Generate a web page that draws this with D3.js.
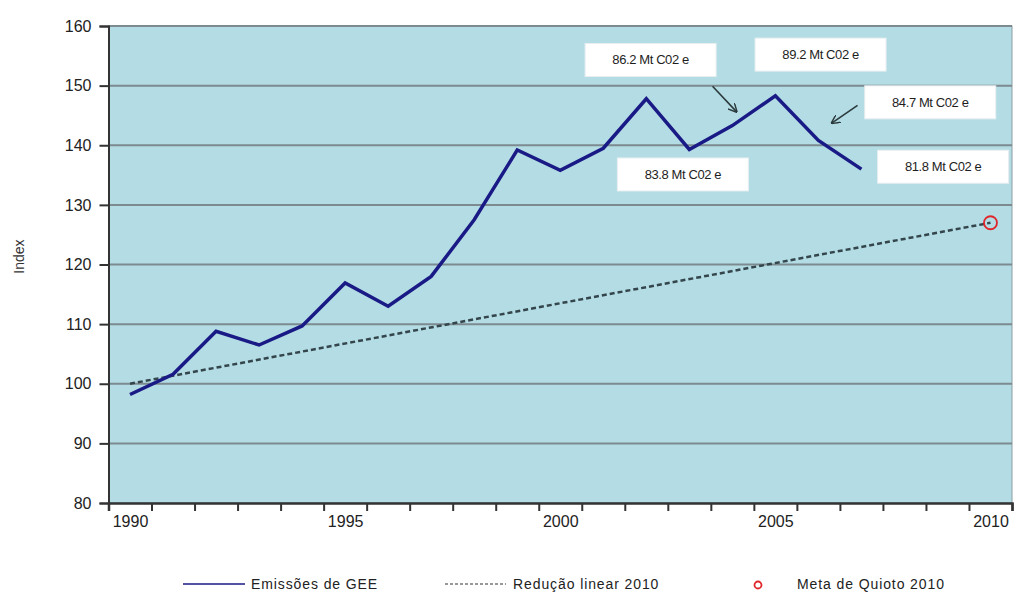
<!DOCTYPE html>
<html>
<head>
<meta charset="utf-8">
<script src="https://cdn.jsdelivr.net/npm/d3@7"></script>
<style>
  html, body { margin: 0; padding: 0; background: #ffffff; }
  svg { display: block; font-family: "Liberation Sans", Arial, sans-serif; }
</style>
</head>
<body>
<svg id="chart" width="1014" height="594"></svg>
<script>
// Emissions index (1990-2007)
const years = [1990, 1991, 1992, 1993, 1994, 1995, 1996, 1997, 1998, 1999,
               2000, 2001, 2002, 2003, 2004, 2005, 2006, 2007];
const emissions = [98.2, 101.6, 108.8, 106.5, 109.7, 116.9, 113.0, 118.0, 127.5, 139.2,
                   135.8, 139.5, 147.8, 139.3, 143.3, 148.3, 140.8, 136.0];

// Linear reduction path towards the 2010 target
const linearYears = [1990, 2010];
const linearValues = [100, 127];

// Kyoto target
const kyotoYear = 2010;
const kyotoValue = 127;

// Axis categories and labels
const categoryYears = d3.range(1990, 2011);
const xTickLabels = ["1990", "1995", "2000", "2005", "2010"];
const yTicks = [80, 90, 100, 110, 120, 130, 140, 150, 160];

// Annotated values (Mt CO2 e)
const noteYears = [2004, 2005, 2006, 2003, 2007];
const noteTexts = ["86.2 Mt C02 e", "89.2 Mt C02 e", "84.7 Mt C02 e", "83.8 Mt C02 e", "81.8 Mt C02 e"];

// Legend entries
const legendLabels = ["Emissões de GEE", "Redução linear 2010", "Meta de Quioto 2010"];

const svg = d3.select("#chart");
const plot = { left: 108.5, right: 1012, top: 26, bottom: 503 };

const x = d3.scaleLinear()
  .domain([categoryYears[0] - 0.5, categoryYears[categoryYears.length - 1] + 0.5])
  .range([plot.left, plot.right]);
const y = d3.scaleLinear().domain([80, 160]).range([plot.bottom, plot.top]);

// Plot background
svg.append("rect")
  .attr("x", plot.left).attr("y", plot.top)
  .attr("width", plot.right - plot.left).attr("height", plot.bottom - plot.top)
  .attr("fill", "#b3dce4")
  .attr("stroke", "#8a9ea4").attr("stroke-width", 1);

// Horizontal gridlines
svg.append("g")
  .selectAll("line")
  .data(yTicks.filter(v => v > 80))
  .join("line")
  .attr("x1", plot.left).attr("x2", plot.right)
  .attr("y1", d => y(d)).attr("y2", d => y(d))
  .attr("stroke", "#7d8b90").attr("stroke-width", 2);

// Y axis
const yAxis = svg.append("g")
  .attr("transform", `translate(${plot.left},0)`)
  .call(d3.axisLeft(y).tickValues(yTicks).tickSize(9).tickPadding(8).tickFormat(d3.format("d")));
yAxis.select(".domain").attr("stroke", "#333").attr("stroke-width", 2);
yAxis.selectAll(".tick line").attr("stroke", "#333").attr("stroke-width", 2);
yAxis.selectAll(".tick text")
  .attr("font-size", 16).attr("fill", "#222")
  .attr("font-family", "Liberation Sans, Arial, sans-serif");

// X axis: tick marks on category boundaries
const xAxis = svg.append("g")
  .attr("transform", `translate(0,${plot.bottom})`)
  .call(d3.axisBottom(x)
    .tickValues(categoryYears.map(d => d - 0.5).concat([categoryYears[categoryYears.length - 1] + 0.5]))
    .tickSize(8)
    .tickFormat(""));
xAxis.select(".domain").attr("stroke", "#333").attr("stroke-width", 2.5);
xAxis.selectAll(".tick line").attr("stroke", "#333").attr("stroke-width", 2);

// X axis labels centred in their categories
const xLabels = svg.append("g")
  .attr("transform", `translate(0,${plot.bottom})`)
  .call(d3.axisBottom(x)
    .tickValues(xTickLabels.map(Number))
    .tickSize(0)
    .tickPadding(13)
    .tickFormat(d3.format("d")));
xLabels.select(".domain").remove();
xLabels.selectAll(".tick text")
  .attr("font-size", 16).attr("fill", "#222")
  .attr("font-family", "Liberation Sans, Arial, sans-serif");

// Y axis title
svg.append("text")
  .attr("transform", `translate(24,${(plot.top + plot.bottom) / 2 - 8}) rotate(-90)`)
  .attr("text-anchor", "middle")
  .attr("font-size", 14).attr("fill", "#333")
  .text("Index");

// Linear reduction line
svg.append("path")
  .datum(linearYears.map((yr, i) => [yr, linearValues[i]]))
  .attr("fill", "none")
  .attr("stroke", "#34464c").attr("stroke-width", 2.5)
  .attr("stroke-dasharray", "5,3")
  .attr("d", d3.line().x(d => x(d[0])).y(d => y(d[1])));

// Emissions line
svg.append("path")
  .datum(years.map((yr, i) => [yr, emissions[i]]))
  .attr("fill", "none")
  .attr("stroke", "#1a1a86").attr("stroke-width", 3.5)
  .attr("stroke-linejoin", "miter")
  .attr("d", d3.line().x(d => x(d[0])).y(d => y(d[1])));

// Kyoto target marker
svg.append("circle")
  .attr("cx", x(kyotoYear)).attr("cy", y(kyotoValue)).attr("r", 6.5)
  .attr("fill", "none").attr("stroke", "#e0262b").attr("stroke-width", 1.8);

// Annotation boxes: box centre offsets (in years / index points) from each point
const noteOffsets = [
  { dx: -1.9, dy: 11.0 },
  { dx: 1.05, dy: 6.9 },
  { dx: 2.6, dy: 6.4 },
  { dx: -0.15, dy: -4.2 },
  { dx: 1.9, dy: 0.4 }
];
const noteLayer = svg.append("g");
noteYears.forEach((yr, i) => {
  const v = emissions[years.indexOf(yr)];
  const cx = x(yr + noteOffsets[i].dx);
  const cy = y(v + noteOffsets[i].dy);
  const w = 131, h = 33;
  noteLayer.append("rect")
    .attr("x", cx - w / 2).attr("y", cy - h / 2)
    .attr("width", w).attr("height", h)
    .attr("fill", "#ffffff").attr("stroke", "#e8eef0").attr("stroke-width", 1);
  noteLayer.append("text")
    .attr("x", cx).attr("y", cy + 4.5)
    .attr("text-anchor", "middle")
    .attr("font-size", 13).attr("fill", "#1e1e1e")
    .attr("letter-spacing", "-0.4")
    .text(noteTexts[i]);
});

// Arrows pointing from two notes to the line
svg.append("defs").append("marker")
  .attr("id", "head")
  .attr("viewBox", "0 0 10 10")
  .attr("refX", 9).attr("refY", 5)
  .attr("markerWidth", 9).attr("markerHeight", 9)
  .attr("markerUnits", "userSpaceOnUse")
  .attr("orient", "auto")
  .append("path")
  .attr("d", "M0,0 L10,5 L0,10")
  .attr("fill", "none").attr("stroke", "#2b3a3c").attr("stroke-width", 1.6);

const arrows = [
  { from: [2003.54, 149.9], to: [2004.1, 145.6] },
  { from: [2006.91, 146.7], to: [2006.31, 143.7] }
];
svg.append("g").selectAll("line")
  .data(arrows)
  .join("line")
  .attr("x1", d => x(d.from[0])).attr("y1", d => y(d.from[1]))
  .attr("x2", d => x(d.to[0])).attr("y2", d => y(d.to[1]))
  .attr("stroke", "#2b3a3c").attr("stroke-width", 1.6)
  .attr("marker-end", "url(#head)");

// Legend
const legend = svg.append("g").attr("font-size", 14).attr("fill", "#222");
const ly = 584;
legend.append("line")
  .attr("x1", 183).attr("x2", 245).attr("y1", ly).attr("y2", ly)
  .attr("stroke", "#1a1a86").attr("stroke-width", 1.5);
legend.append("text").attr("x", 251).attr("y", ly + 5)
  .attr("letter-spacing", "0.9").text(legendLabels[0]);
legend.append("line")
  .attr("x1", 445).attr("x2", 506).attr("y1", ly).attr("y2", ly)
  .attr("stroke", "#333").attr("stroke-width", 1.2)
  .attr("stroke-dasharray", "3,2");
legend.append("text").attr("x", 513).attr("y", ly + 5)
  .attr("letter-spacing", "0.9").text(legendLabels[1]);
legend.append("circle")
  .attr("cx", 758).attr("cy", ly + 1).attr("r", 3.5)
  .attr("fill", "none").attr("stroke", "#e0262b").attr("stroke-width", 1.8);
legend.append("text").attr("x", 797).attr("y", ly + 5)
  .attr("letter-spacing", "0.9").text(legendLabels[2]);
</script>
</body>
</html>
